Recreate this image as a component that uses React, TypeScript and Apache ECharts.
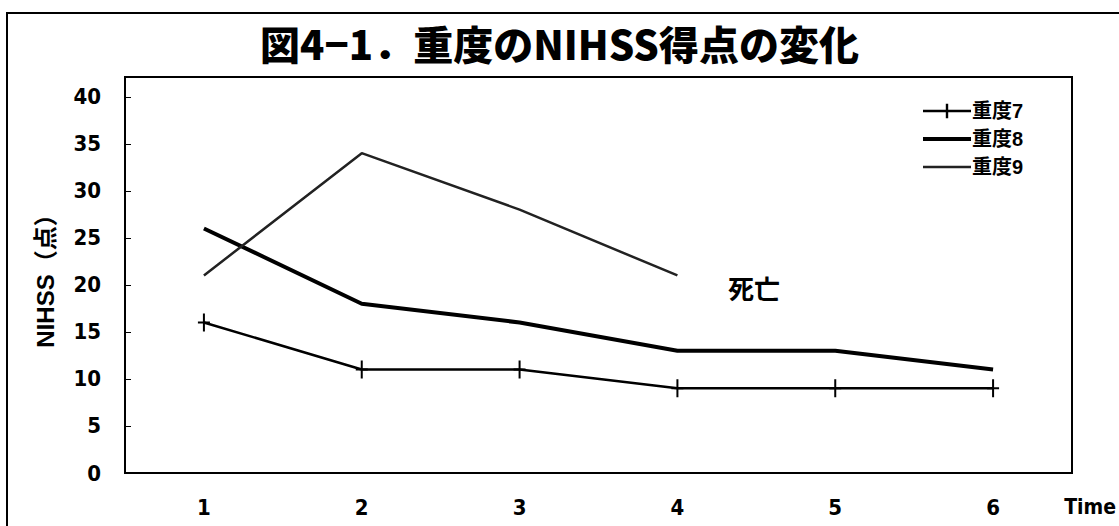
import React, { useEffect, useRef } from "react";
import * as echarts from "echarts";

// Time points and NIHSS scores for the three severe cases
const timePoints = ["1", "2", "3", "4", "5", "6"];
const case7 = [16, 11, 11, 9, 9, 9];
const case8 = [26, 18, 16, 13, 13, 11];
const case9 = [21, 34, 28, 21, null, null];
const seriesNames = ["重度7", "重度8", "重度9"];

const FONT = "'Liberation Sans', 'Noto Sans CJK JP', sans-serif";
const NARROW = "'Liberation Sans Narrow', 'DejaVu Sans Condensed', 'Liberation Sans', sans-serif";
const CJK = "'Noto Sans CJK JP', sans-serif";

// Cross marker used for 重度7: a tall vertical bar with a short horizontal bar
const crossSymbol = "path://M-1,-9 L1,-9 L1,9 L-1,9 Z M-6,-1 L6,-1 L6,1 L-6,1 Z";

export default function App() {
  const ref = useRef<HTMLDivElement>(null);

  useEffect(() => {
    document.body.style.margin = "0";
    if (!ref.current) return;
    const chart = echarts.init(ref.current, undefined, { renderer: "svg" });
    chart.setOption({
      animation: false,
      backgroundColor: "#ffffff",
      title: {
        text: "図4−1．重度のNIHSS得点の変化",
        left: "center",
        top: 18,
        textStyle: {
          fontFamily: CJK,
          fontWeight: 900,
          fontSize: 40,
          color: "#000",
        },
      },
      legend: {
        orient: "vertical",
        left: 916,
        top: 96,
        itemWidth: 48,
        itemHeight: 18,
        itemGap: 8,
        data: [
          { name: seriesNames[0], lineStyle: { width: 2.5, color: "#000" } },
          { name: seriesNames[1], lineStyle: { width: 4, color: "#000" }, itemStyle: { opacity: 0 } },
          { name: seriesNames[2], lineStyle: { width: 2.5, color: "#222" }, itemStyle: { opacity: 0 } },
        ],
        textStyle: {
          fontFamily: FONT,
          fontWeight: "bold",
          fontSize: 20,
          color: "#000",
          padding: [0, 0, 0, -4],
        },
      },
      grid: {
        left: 125,
        right: 1119 - 1072,
        top: 77,
        bottom: 526 - 473,
        outerBoundsMode: "none",
        containLabel: false,
        show: true,
        borderColor: "#000",
        borderWidth: 2,
        backgroundColor: "transparent",
      },
      xAxis: {
        type: "category",
        data: timePoints,
        boundaryGap: true,
        name: "Time",
        nameLocation: "end",
        nameGap: 44,
        nameTextStyle: {
          fontFamily: NARROW,
          fontWeight: "bold",
          fontSize: 21,
          color: "#000",
          align: "right",
          verticalAlign: "top",
          padding: [23, 0, 0, 0],
        },
        axisLine: { lineStyle: { color: "#000", width: 2 } },
        axisTick: { inside: true, length: 6, lineStyle: { color: "#000", width: 1 } },
        axisLabel: {
          margin: 23,
          fontFamily: NARROW,
          fontWeight: "bold",
          fontSize: 22,
          color: "#000",
        },
        splitLine: { show: false },
      },
      yAxis: {
        type: "value",
        min: 0,
        max: 42.1,
        interval: 5,
        name: "NIHSS（点）",
        nameLocation: "middle",
        nameGap: 68,
        nameTextStyle: {
          fontFamily: FONT,
          fontWeight: "bold",
          fontSize: 24,
          color: "#000",
        },
        axisLine: { show: true, lineStyle: { color: "#000", width: 2 } },
        axisTick: { show: true, inside: true, length: 6, lineStyle: { color: "#000", width: 1 } },
        axisLabel: {
          showMaxLabel: false,
          margin: 24,
          fontFamily: NARROW,
          fontWeight: "bold",
          fontSize: 22,
          color: "#000",
        },
        splitLine: { show: false },
      },
      series: [
        {
          name: seriesNames[0],
          type: "line",
          data: case7,
          symbol: crossSymbol,
          symbolSize: [12, 18],
          itemStyle: { color: "#000" },
          lineStyle: { color: "#000", width: 2.5 },
        },
        {
          name: seriesNames[1],
          type: "line",
          data: case8,
          symbol: "none",
          itemStyle: { color: "#000" },
          lineStyle: { color: "#000", width: 4 },
        },
        {
          name: seriesNames[2],
          type: "line",
          data: case9,
          symbol: "none",
          connectNulls: false,
          itemStyle: { color: "#222" },
          lineStyle: { color: "#222", width: 2.5 },
        },
      ],
      graphic: [
        {
          type: "rect",
          shape: { x: 7, y: 13, width: 1130, height: 530 },
          style: { fill: "none", stroke: "#000", lineWidth: 2 },
          silent: true,
        },
        {
          type: "text",
          left: 728,
          top: 274,
          style: {
            text: "死亡",
            fontFamily: CJK,
            fontWeight: "bold",
            fontSize: 26,
            fill: "#000",
          },
        },
      ],
    });
    return () => chart.dispose();
  }, []);

  return <div ref={ref} style={{ width: 1119, height: 526 }} />;
}
